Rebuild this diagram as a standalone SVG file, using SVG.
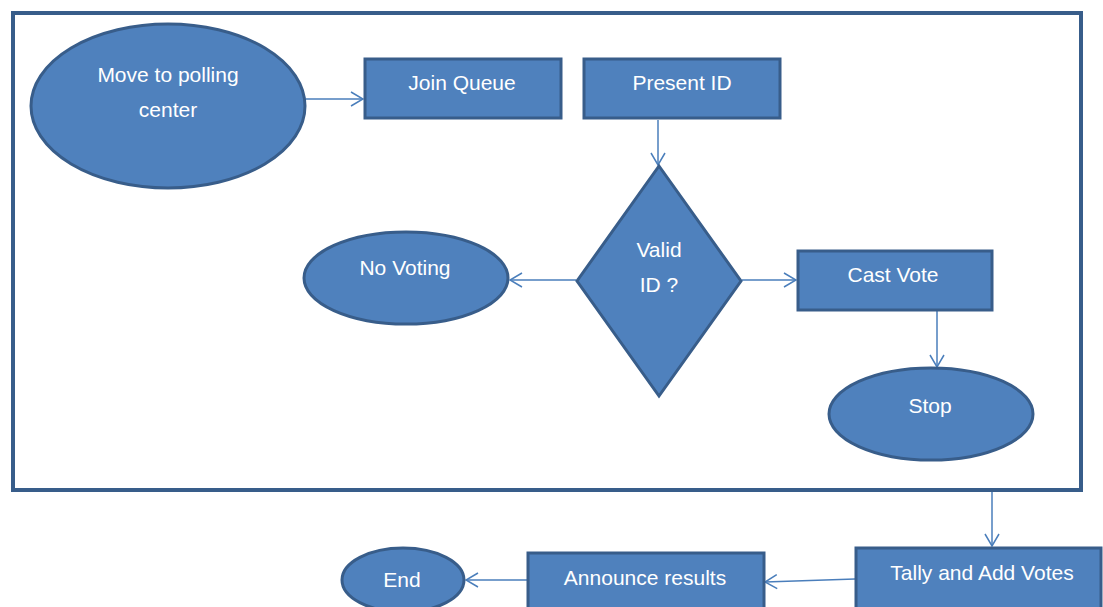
<svg xmlns="http://www.w3.org/2000/svg" width="1103" height="607" viewBox="0 0 1103 607">
  <style>
    .shape { fill: #4f81bd; stroke: #385d8a; stroke-width: 3; }
    .frame { fill: none; stroke: #385d8a; stroke-width: 4; }
    .label { font-family: "Liberation Sans", Arial, sans-serif; font-size: 21px; fill: #ffffff; text-anchor: middle; }
    .conn { fill: none; stroke: #4a7ebb; stroke-width: 1.5; }
  </style>
  <defs>
    <marker id="arrow" viewBox="0 0 14 16" refX="13" refY="8" markerWidth="14" markerHeight="16" markerUnits="userSpaceOnUse" orient="auto">
      <path d="M1,1 L13,8 L1,15" fill="none" stroke="#4a7ebb" stroke-width="1.5"/>
    </marker>
  </defs>

  <rect width="1103" height="607" fill="#ffffff"/>

  <!-- boundary around the voting stage -->
  <rect class="frame" x="13" y="13" width="1068" height="477"/>

  <g id="connectors">
    <line class="conn" x1="306" y1="99" x2="363" y2="99" marker-end="url(#arrow)"/>
    <line class="conn" x1="658" y1="120" x2="658" y2="165" marker-end="url(#arrow)"/>
    <line class="conn" x1="576" y1="280" x2="510" y2="280" marker-end="url(#arrow)"/>
    <line class="conn" x1="742" y1="280" x2="796" y2="280" marker-end="url(#arrow)"/>
    <line class="conn" x1="937" y1="311" x2="937" y2="367" marker-end="url(#arrow)"/>
    <line class="conn" x1="992" y1="492" x2="992" y2="546" marker-end="url(#arrow)"/>
    <line class="conn" x1="855" y1="579" x2="765" y2="582" marker-end="url(#arrow)"/>
    <line class="conn" x1="527" y1="580" x2="466" y2="580" marker-end="url(#arrow)"/>
  </g>

  <g id="move-to-polling">
    <ellipse class="shape" cx="168" cy="106" rx="137" ry="82"/>
    <text class="label" x="168" y="82">Move to polling</text>
    <text class="label" x="168" y="117">center</text>
  </g>

  <g id="join-queue">
    <rect class="shape" x="365" y="59" width="196" height="59"/>
    <text class="label" x="462" y="90">Join Queue</text>
  </g>

  <g id="present-id">
    <rect class="shape" x="584" y="59" width="196" height="59"/>
    <text class="label" x="682" y="90">Present ID</text>
  </g>

  <g id="valid-id">
    <polygon class="shape" points="659,166 741,281 659,396 577,281"/>
    <text class="label" x="659" y="257">Valid</text>
    <text class="label" x="659" y="292">ID ?</text>
  </g>

  <g id="no-voting">
    <ellipse class="shape" cx="406" cy="278" rx="102" ry="46"/>
    <text class="label" x="405" y="275">No Voting</text>
  </g>

  <g id="cast-vote">
    <rect class="shape" x="798" y="251" width="194" height="59"/>
    <text class="label" x="893" y="282">Cast Vote</text>
  </g>

  <g id="stop">
    <ellipse class="shape" cx="931" cy="414" rx="102" ry="46"/>
    <text class="label" x="930" y="413">Stop</text>
  </g>

  <g id="tally-votes">
    <rect class="shape" x="856" y="548" width="245" height="70"/>
    <text class="label" x="982" y="580">Tally and Add Votes</text>
  </g>

  <g id="announce-results">
    <rect class="shape" x="528" y="553" width="236" height="65"/>
    <text class="label" x="645" y="585">Announce results</text>
  </g>

  <g id="end">
    <ellipse class="shape" cx="403" cy="580" rx="61" ry="32"/>
    <text class="label" x="402" y="587">End</text>
  </g>
</svg>
